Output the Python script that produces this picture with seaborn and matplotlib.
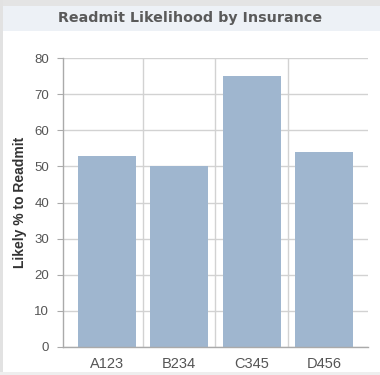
import matplotlib
matplotlib.use("Agg")
import matplotlib.pyplot as plt
from matplotlib.patches import Rectangle
import seaborn as sns
import pandas as pd

# Readmission likelihood per insurance plan
plans = ["A123", "B234", "C345", "D456"]
readmit_pct = [53, 50, 75, 54]
y_ticks = [0, 10, 20, 30, 40, 50, 60, 70, 80]

df = pd.DataFrame({"plan": plans, "pct": readmit_pct})

sns.set_theme(style="white")
plt.rcParams["font.family"] = ["Liberation Sans", "DejaVu Sans"]

fig = plt.figure(figsize=(3.8, 3.75), dpi=100)
fig.patch.set_facecolor("white")

# outer frame and title band
fig.patches.append(Rectangle((0, 0.985), 1, 0.015, transform=fig.transFigure,
                             facecolor="#e4e4e4", edgecolor="none", zorder=0))
fig.patches.append(Rectangle((0, 0), 0.009, 1, transform=fig.transFigure,
                             facecolor="#e2e2e2", edgecolor="none", zorder=0))
fig.patches.append(Rectangle((0.009, 0.918), 0.991, 0.067, transform=fig.transFigure,
                             facecolor="#edf1f6", edgecolor="none", zorder=0))
fig.patches.append(Rectangle((0, 0), 1, 0.008, transform=fig.transFigure,
                             facecolor="#eeeeee", edgecolor="none", zorder=0))

fig.text(0.5, 0.953, "Readmit Likelihood by Insurance", ha="center", va="center",
         fontsize=10.3, fontweight="bold", color="#5a5a5a", family="DejaVu Sans")

ax = fig.add_axes([0.166, 0.075, 0.802, 0.770])
sns.barplot(data=df, x="plan", y="pct", color="#9fb6cf", saturation=1,
            width=0.8, linewidth=0, ax=ax, zorder=2)

ax.set_xlim(-0.6, 3.6)
ax.set_ylim(0, 80)
ax.set_yticks(y_ticks)
ax.set_xticks(range(len(plans)))
ax.set_xticklabels(plans)
ax.set_xticks([0.5, 1.5, 2.5], minor=True)

ax.grid(axis="y", which="major", color="#d2d2d2", linewidth=1, zorder=0)
ax.grid(axis="x", which="minor", color="#d2d2d2", linewidth=1, zorder=0)
ax.grid(axis="x", which="major", visible=False)
ax.set_axisbelow(True)

for side in ["top", "right"]:
    ax.spines[side].set_visible(False)
for side in ["left", "bottom"]:
    ax.spines[side].set_color("#aaaaaa")
    ax.spines[side].set_linewidth(1)

ax.tick_params(axis="y", which="major", left=True, length=4, width=0.8,
               color="#aaaaaa", labelsize=9.5, labelcolor="#555555", pad=6)
ax.tick_params(axis="x", which="both", bottom=False, labelsize=10.5,
               labelcolor="#555555", pad=1)

ax.set_xlabel("")
ax.set_ylabel("Likely % to Readmit", fontsize=10, fontweight="bold", color="#333333")
ax.yaxis.set_label_coords(-0.118, 0.5)

fig.savefig("out.png", dpi=100)
